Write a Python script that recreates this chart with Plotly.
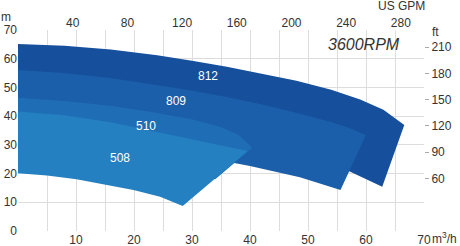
import plotly.graph_objects as go

# ---- data (flow m3/h, head m) ----
q812_top = [0, 8, 16, 24, 30, 36, 42, 48, 54, 59, 63, 66.6]
h812_top = [65.1, 64.5, 63.2, 61.2, 59.3, 57.2, 54.8, 52.3, 49.2, 45.8, 42.2, 36.9]
q812_bot = [62.8, 57.2, 50, 40, 30, 20, 10, 0]
h812_bot = [15.4, 20.7, 26.9, 34.0, 39.5, 43.4, 45.8, 46.6]

q809_top = [0, 8, 16, 24, 30, 36, 42, 48, 54, 57, 60]
h809_top = [56.1, 55.0, 53.3, 50.9, 48.9, 46.7, 44.1, 41.2, 38.0, 36.0, 33.4]
q809_bot = [55.6, 48.6, 40, 30, 20, 10, 0]
h809_bot = [14.3, 18.7, 22.6, 26.5, 29.3, 30.9, 31.5]

q510_top = [0, 8, 16, 23.6, 30, 35, 38, 40.4]
h510_top = [46.4, 45.3, 43.6, 41.3, 38.9, 36.2, 33.5, 29.0]
q510_bot = [34, 25, 15, 0]
h510_bot = [18, 22, 25, 27]

q508_top = [0, 8, 16, 23.5, 30, 36.6, 39.6]
h508_top = [41.6, 40.3, 37.9, 34.7, 32.0, 29.3, 27.9]
q508_bot = [28.4, 24.5, 19.9, 10.1, 5, 0]
h508_bot = [8.7, 11.9, 14.3, 18.0, 19.3, 20.1]

models = ["812", "809", "510", "508"]
colors = ["#164f9b", "#1b5ea9", "#1f6db5", "#2480c1"]
label_q = [32.8, 27.2, 22.1, 17.6]
label_h = [54.0, 45.3, 36.6, 25.4]

x_ticks = [0, 5, 10, 15, 20, 25, 30, 35, 40, 45, 50, 55, 60, 65, 70]
x_text = ["", "", "10", "", "20", "", "30", "", "40", "", "50", "", "60", "", "70"]
y_ticks = [0, 10, 20, 30, 40, 50, 60, 70]
gpm_ticks = [40, 80, 120, 160, 200, 240, 280]
ft_ticks = [60, 90, 120, 150, 180, 210]
gpm_max = 296.9
ft_max = 70 * 3.2808

regions = [
    (q812_top, h812_top, q812_bot, h812_bot),
    (q809_top, h809_top, q809_bot, h809_bot),
    (q510_top, h510_top, q510_bot, h510_bot),
    (q508_top, h508_top, q508_bot, h508_bot),
]

fig = go.Figure()
for (qt, ht, qb, hb), col in zip(regions, colors):
    fig.add_trace(go.Scatter(
        x=qt + qb + [qt[0]], y=ht + hb + [ht[0]],
        mode="lines", fill="toself", fillcolor=col,
        line=dict(width=0, color=col), hoverinfo="skip", showlegend=False))

fig.add_trace(go.Scatter(x=[None], y=[None], xaxis="x2", yaxis="y2",
                         showlegend=False, hoverinfo="skip"))

font = "Liberation Sans, Arial, sans-serif"
tick_font = dict(family=font, size=12, color="#333333")
grid = "#dddddd"

annotations = []
for m, q, h in zip(models, label_q, label_h):
    annotations.append(dict(x=q, y=h, xref="x", yref="y", text=m, showarrow=False,
                            font=dict(family=font, size=12, color="white")))
annotations += [
    dict(x=66.2, y=64.8, xref="x", yref="y", text="<i>3600RPM</i>", showarrow=False,
         xanchor="right", yanchor="middle", font=dict(family=font, size=16, color="#333333")),
    dict(x=-0.0296, y=1.066, xref="paper", yref="paper", text="m", showarrow=False,
         xanchor="center", yanchor="middle", font=tick_font),
    dict(x=0.9446, y=1.117, xref="paper", yref="paper", text="US GPM", showarrow=False,
         xanchor="center", yanchor="middle", font=tick_font),
    dict(x=1.029, y=0.99, xref="paper", yref="paper", text="ft", showarrow=False,
         xanchor="center", yanchor="middle", font=tick_font),
    dict(x=1.015, y=-0.033, xref="paper", yref="paper", text="m<sup>3</sup>/h",
         showarrow=False, xanchor="left", yanchor="middle", font=tick_font),
]

fig.update_layout(
    width=460, height=246,
    margin=dict(l=18, r=36, t=30, b=15, autoexpand=False),
    plot_bgcolor="white", paper_bgcolor="white",
    showlegend=False,
    xaxis=dict(range=[0, 70], tickvals=x_ticks, ticktext=x_text, showgrid=True,
               gridcolor=grid, gridwidth=1, zeroline=False, showline=False,
               ticks="", tickfont=tick_font, fixedrange=True, automargin=False),
    yaxis=dict(range=[0, 70], tickvals=y_ticks, showgrid=True, gridcolor=grid,
               zeroline=False, showline=False, ticks="", tickfont=tick_font,
               fixedrange=True, automargin=False),
    xaxis2=dict(range=[0, gpm_max], overlaying="x", side="top", tickvals=gpm_ticks,
                showgrid=False, zeroline=False, ticks="", tickfont=tick_font,
                fixedrange=True, automargin=False),
    yaxis2=dict(range=[0, ft_max], overlaying="y", side="right", tickvals=ft_ticks,
                showgrid=False, zeroline=False, ticks="outside", ticklen=4,
                tickcolor="#aaaaaa", tickfont=tick_font, fixedrange=True,
                automargin=False),
    annotations=annotations,
)

fig.write_html("out.html")
